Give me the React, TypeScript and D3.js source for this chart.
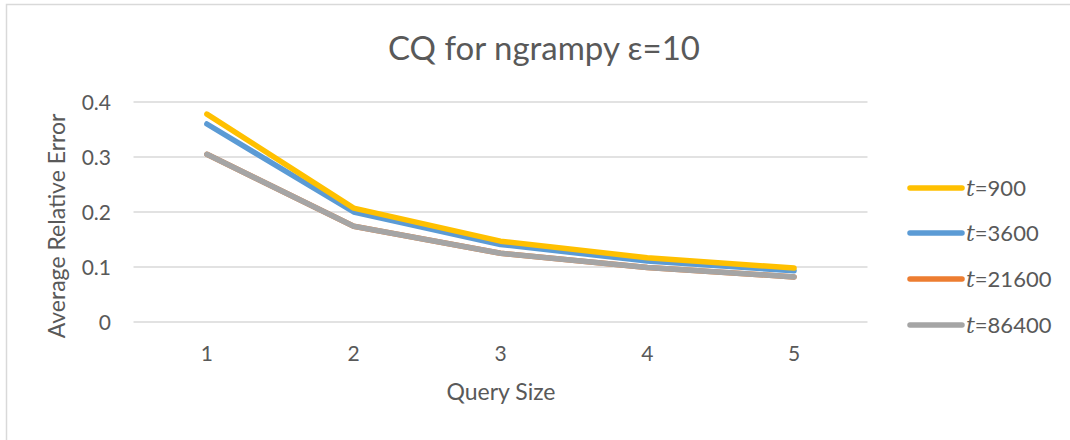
import React from "react";
import * as d3 from "d3";

const categories = ["1", "2", "3", "4", "5"];
const yTicks = [0, 0.1, 0.2, 0.3, 0.4];
const seriesNames = ["900", "3600", "21600", "86400"];
const t900 = [0.378, 0.207, 0.147, 0.117, 0.098];
const t3600 = [0.36, 0.2, 0.141, 0.111, 0.093];
const t21600 = [0.305, 0.174, 0.125, 0.099, 0.082];
const t86400 = [0.305, 0.174, 0.125, 0.099, 0.082];
const seriesColors = ["#FFC000", "#5B9BD5", "#ED7D31", "#A5A5A5"];

const W = 1070;
const H = 440;
const FONT = "Lato, 'Open Sans', sans-serif";
const TEXT = "#595959";

export default function App() {
  const x = d3.scaleBand<string>().domain(categories).range([133.5, 867.5]);
  const y = d3.scaleLinear().domain([0, 0.4]).range([322, 102]);
  const allSeries = [t900, t3600, t21600, t86400];
  const line = d3
    .line<number>()
    .x((_, i) => (x(categories[i]) as number) + x.bandwidth() / 2)
    .y((d) => y(d));
  const drawOrder = [2, 3, 1, 0];
  const legendY = [188, 233, 279, 325];

  return (
    <svg
      width={W}
      height={H}
      style={{ position: "absolute", left: 0, top: 0, background: "#fff" }}
      fontFamily={FONT}
    >
      <rect x={6.5} y={4.5} width={1200} height={600} fill="#fff" stroke="#D9D9D9" strokeWidth={1.5} />
      <text x={544} y={60} textAnchor="middle" fontSize={33} fill={TEXT}>
        CQ for ngrampy ε=10
      </text>
      {yTicks.map((t) => (
        <g key={t}>
          <line x1={133.5} x2={867.5} y1={y(t)} y2={y(t)} stroke="#D9D9D9" strokeWidth={1.5} />
          <text x={111} y={y(t) + 7.5} textAnchor="end" fontSize={21} fill={TEXT}>
            {String(t)}
          </text>
        </g>
      ))}
      {categories.map((c) => (
        <text
          key={c}
          x={(x(c) as number) + x.bandwidth() / 2}
          y={361}
          textAnchor="middle"
          fontSize={21}
          fill={TEXT}
        >
          {c}
        </text>
      ))}
      <text x={501} y={400} textAnchor="middle" fontSize={23} fill={TEXT}>
        Query Size
      </text>
      <text
        transform="translate(65,226) rotate(-90)"
        textAnchor="middle"
        fontSize={23}
        fill={TEXT}
      >
        Average Relative Error
      </text>
      {drawOrder.map((si) => (
        <path
          key={si}
          d={line(allSeries[si]) || ""}
          fill="none"
          stroke={seriesColors[si]}
          strokeWidth={5.5}
          strokeLinejoin="round"
          strokeLinecap="round"
        />
      ))}
      {seriesNames.map((n, i) => (
        <g key={n}>
          <line
            x1={910}
            x2={962}
            y1={legendY[i]}
            y2={legendY[i]}
            stroke={seriesColors[i]}
            strokeWidth={5.5}
            strokeLinecap="round"
          />
          <text x={966} y={legendY[i] + 7.5} fontSize={22} fill={TEXT}>
            <tspan fontFamily="'DejaVu Serif', serif" fontStyle="italic">
              t
            </tspan>
            <tspan>={n}</tspan>
          </text>
        </g>
      ))}
    </svg>
  );
}
